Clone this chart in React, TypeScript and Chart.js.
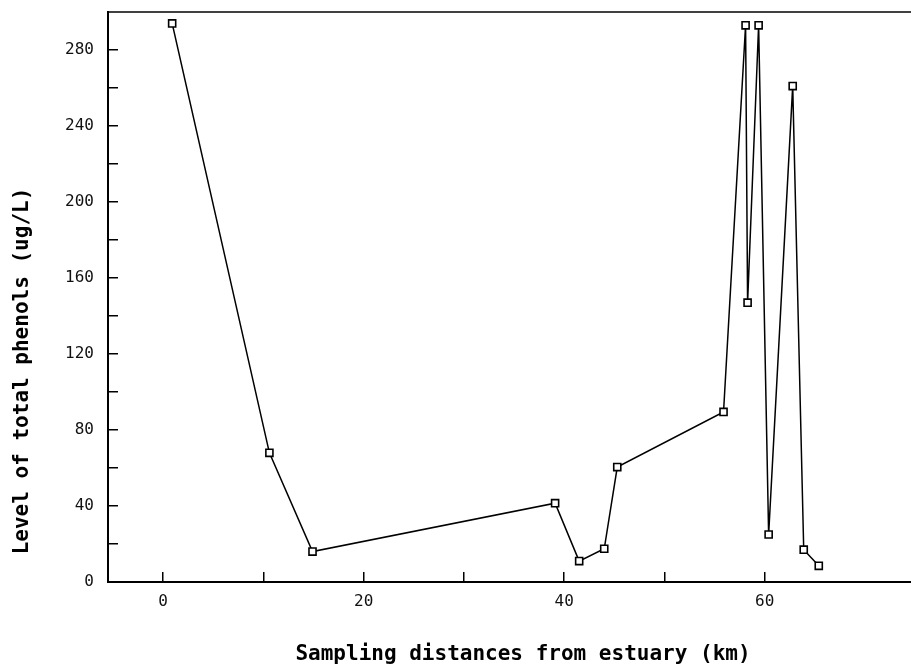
import React, { useEffect, useRef } from "react";
import { Chart, registerables } from "chart.js";

Chart.register(...registerables);

// Sampling distance from estuary (km)
const distances = [0.9, 10.6, 14.9, 39.1, 41.5, 44.0, 45.3, 55.9, 58.1, 58.3, 59.4, 60.4, 62.8, 63.9, 65.4];
// Level of total phenols (ug/L)
const phenols = [294, 68, 16, 41.5, 11, 17.5, 60.5, 89.5, 293, 147, 293, 25, 261, 17, 8.5];

const xTickValues = [0, 10, 20, 30, 40, 50, 60];
const xLabelValues = [0, 20, 40, 60];
const yTickValues = [0, 20, 40, 60, 80, 100, 120, 140, 160, 180, 200, 220, 240, 260, 280];
const yLabelValues = [0, 40, 80, 120, 160, 200, 240, 280];

const xTitle = "Sampling distances from estuary (km)";
const yTitle = "Level of total phenols (ug/L)";

const TITLE_FONT = "bold 21px 'DejaVu Sans Mono'";
const TICK_FONT = { family: "'DejaVu Sans Mono'", size: 16 };

const framePlugin = {
  id: "frameAndTitles",
  afterDraw(chart: any) {
    const { ctx, chartArea } = chart;
    ctx.save();
    // top frame line
    ctx.strokeStyle = "#000";
    ctx.lineWidth = 1.5;
    ctx.beginPath();
    ctx.moveTo(chartArea.left, chartArea.top);
    ctx.lineTo(chartArea.right, chartArea.top);
    ctx.stroke();
    // axis titles
    ctx.fillStyle = "#000";
    ctx.font = TITLE_FONT;
    ctx.textAlign = "center";
    ctx.textBaseline = "middle";
    ctx.fillText(xTitle, 523, 655);
    ctx.translate(23, 371);
    ctx.rotate(-Math.PI / 2);
    ctx.fillText(yTitle, 0, 0);
    ctx.restore();
  },
};

export default function App() {
  const canvasRef = useRef<HTMLCanvasElement | null>(null);

  useEffect(() => {
    if (!canvasRef.current) return;
    const chart = new Chart(canvasRef.current, {
      type: "line",
      data: {
        datasets: [
          {
            data: distances.map((d, i) => ({ x: d, y: phenols[i] })),
            borderColor: "#000",
            borderWidth: 1.5,
            pointStyle: "rect",
            pointRadius: 5,
            pointBackgroundColor: "#fff",
            pointBorderColor: "#000",
            pointBorderWidth: 1.6,
            tension: 0,
            fill: false,
          },
        ],
      },
      options: {
        responsive: false,
        animation: false,
        layout: { autoPadding: false, padding: { top: 12, right: 0, left: 0, bottom: 0 } },
        plugins: {
          legend: { display: false },
          tooltip: { enabled: false },
        },
        scales: {
          x: {
            type: "linear",
            min: -5.5,
            max: 74.6,
            afterBuildTicks: (scale: any) => {
              scale.ticks = xTickValues.map((v) => ({ value: v }));
            },
            afterFit: (scale: any) => {
              scale.height = 86;
              scale.paddingLeft = 0;
              scale.paddingRight = 0;
              scale.paddingTop = 0;
              scale.paddingBottom = 0;
            },
            ticks: {
              autoSkip: false,
              maxRotation: 0,
              padding: 20,
              color: "#111",
              font: TICK_FONT,
              callback: (v: any) => (xLabelValues.includes(Number(v)) ? String(v) : ""),
            },
            grid: {
              drawOnChartArea: false,
              drawTicks: true,
              tickLength: -10,
              color: "#000",
              lineWidth: 1.5,
            },
            border: { display: true, color: "#000", width: 2 },
          },
          y: {
            type: "linear",
            min: 0,
            max: 300,
            afterBuildTicks: (scale: any) => {
              scale.ticks = yTickValues.map((v) => ({ value: v }));
            },
            afterFit: (scale: any) => {
              scale.width = 108;
              scale.paddingLeft = 0;
              scale.paddingRight = 0;
              scale.paddingTop = 0;
              scale.paddingBottom = 0;
            },
            ticks: {
              autoSkip: false,
              padding: 24,
              color: "#111",
              font: TICK_FONT,
              callback: (v: any) => (yLabelValues.includes(Number(v)) ? String(v) : ""),
            },
            grid: {
              drawOnChartArea: false,
              drawTicks: true,
              tickLength: -10,
              color: "#000",
              lineWidth: 1.5,
            },
            border: { display: true, color: "#000", width: 2 },
          },
        },
      },
      plugins: [framePlugin],
    });
    return () => chart.destroy();
  }, []);

  return (
    <div style={{ position: "absolute", left: 0, top: 0, width: 911, height: 668, background: "#fff" }}>
      <canvas ref={canvasRef} width={911} height={668} style={{ display: "block" }} />
    </div>
  );
}
